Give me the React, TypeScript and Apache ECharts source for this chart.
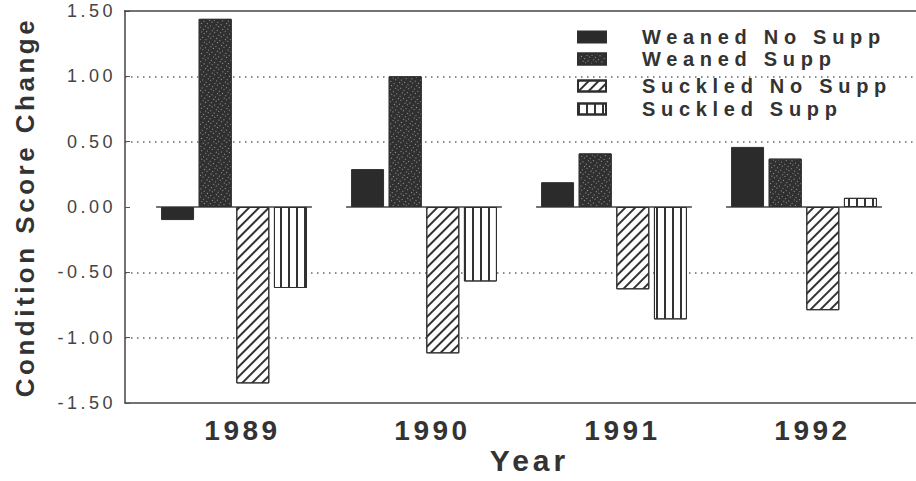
import React, { useEffect, useRef } from "react";
import * as echarts from "echarts";

const years = ["1989", "1990", "1991", "1992"];
const seriesNames = ["Weaned No Supp", "Weaned Supp", "Suckled No Supp", "Suckled Supp"];
const weanedNoSupp = [-0.1, 0.29, 0.19, 0.46];
const weanedSupp = [1.44, 1.0, 0.41, 0.37];
const suckledNoSupp = [-1.35, -1.12, -0.63, -0.79];
const suckledSupp = [-0.62, -0.57, -0.86, 0.07];
const yMin = -1.5;
const yMax = 1.5;
const yInterval = 0.5;

const FONT = "'Liberation Sans', Arial, Helvetica, sans-serif";
const INK = "#2e2e2e";

export default function App() {
  const ref = useRef<HTMLDivElement>(null);

  useEffect(() => {
    document.body.style.margin = "0";
    const chart = echarts.init(ref.current!, null, { renderer: "svg" });
    const border = { borderColor: INK, borderWidth: 1 };
    // one split line per tick from min to max; the one at 0 and the frame edges are hidden
    const splitColors: string[] = [];
    for (let v = yMin; v <= yMax + 1e-9; v += yInterval) {
      splitColors.push(
        Math.abs(v) < 1e-9 || Math.abs(v - yMin) < 1e-9 || Math.abs(v - yMax) < 1e-9 ? "rgba(0,0,0,0)" : "#666"
      );
    }
    const option: any = {
      animation: false,
      backgroundColor: "#ffffff",
      grid: [
        { left: 125, width: 805, top: 11, bottom: 78, outerBoundsMode: "none", containLabel: false },
        { left: 139, right: 17, top: 11, bottom: 78, outerBoundsMode: "none", containLabel: false },
      ],
      graphic: [
        {
          type: "line",
          z: 10,
          shape: { x1: 124, y1: 11, x2: 916, y2: 11 },
          style: { stroke: "#444", lineWidth: 1.5 },
          silent: true,
        },
      ],
      legend: [
        {
          data: [seriesNames[0], seriesNames[1]],
          orient: "vertical",
          left: 577,
          top: 27,
          padding: 0,
          itemGap: 2,
          itemWidth: 28,
          itemHeight: 11,
          icon: "rect",
          selectedMode: false,
          textStyle: { fontFamily: FONT, fontSize: 20, fontWeight: "bold", color: "#333", padding: [0, 0, 0, 31] },
        },
        {
          data: [seriesNames[2], seriesNames[3]],
          orient: "vertical",
          left: 577,
          top: 76,
          padding: 0,
          itemGap: 3,
          itemWidth: 28,
          itemHeight: 11,
          icon: "rect",
          selectedMode: false,
          textStyle: { fontFamily: FONT, fontSize: 20, fontWeight: "bold", color: "#333", padding: [0, 0, 0, 31] },
        },
      ],
      xAxis: [
        {
          type: "category",
          gridIndex: 0,
          data: years,
          axisLine: { show: true, onZero: false, lineStyle: { color: "#444", width: 1.5 } },
          axisTick: { show: false },
          axisLabel: { show: false },
          splitLine: { show: false },
          name: "Year",
          nameLocation: "middle",
          nameGap: 42,
          nameTextStyle: { fontFamily: FONT, fontSize: 30, fontWeight: "bold", color: "#333", padding: [0, 0, 0, 4] },
        },
        {
          type: "category",
          gridIndex: 1,
          data: years,
          axisLine: { show: false, onZero: false },
          axisTick: { show: false },
          axisLabel: {
            fontFamily: FONT,
            fontSize: 28,
            fontWeight: "bold",
            color: "#333",
            margin: 13,
            padding: [0, 0, 0, 17],
          },
        },
      ],
      yAxis: [
        {
          type: "value",
          gridIndex: 0,
          min: yMin,
          max: yMax,
          interval: yInterval,
          axisLine: { show: true, lineStyle: { color: "#444", width: 1.5 } },
          axisTick: { show: true, inside: true, length: 5, lineStyle: { color: "#555" } },
          axisLabel: {
            fontFamily: FONT,
            fontSize: 18,
            color: "#444",
            margin: 9,
            formatter: (v: number) => v.toFixed(2),
          },
          splitLine: {
            show: true,
            lineStyle: { color: splitColors, width: 1.5, type: [1.5, 4.5] },
          },
          name: "Condition Score Change",
          nameLocation: "middle",
          nameGap: 87,
          nameTextStyle: { fontFamily: FONT, fontSize: 26, fontWeight: "bold", color: "#333" },
        },
        {
          type: "value",
          gridIndex: 1,
          min: yMin,
          max: yMax,
          interval: yInterval,
          show: false,
        },
      ],
      series: [
        {
          type: "custom",
          xAxisIndex: 1,
          yAxisIndex: 1,
          silent: true,
          z: 1,
          data: years.map((_, i) => [i, 0]),
          renderItem: (params: any, api: any) => {
            const p = api.coord([api.value(0), 0]);
            const w = api.size([1, 0])[0];
            const half = w * 0.41;
            return {
              type: "line",
              shape: { x1: p[0] - half, y1: p[1], x2: p[0] + half, y2: p[1] },
              style: { stroke: "#444", lineWidth: 1.5 },
            };
          },
        },
        {
          name: seriesNames[0],
          type: "bar",
          xAxisIndex: 1,
          yAxisIndex: 1,
          data: weanedNoSupp,
          barWidth: 33,
          barGap: "14%",
          z: 3,
          itemStyle: { color: "#2b2b2b", ...border },
        },
        {
          name: seriesNames[1],
          type: "bar",
          xAxisIndex: 1,
          yAxisIndex: 1,
          data: weanedSupp,
          barWidth: 33,
          barGap: "14%",
          z: 3,
          itemStyle: {
            color: "#303030",
            ...border,
            decal: {
              symbol: "rect",
              symbolSize: 1,
              color: "rgba(185,185,185,0.8)",
              backgroundColor: "#2c2c2c",
              dashArrayX: [[1, 3], [1, 2, 1, 4]],
              dashArrayY: [1, 2, 1, 3],
              rotation: 0.6,
            },
          },
        },
        {
          name: seriesNames[2],
          type: "bar",
          xAxisIndex: 1,
          yAxisIndex: 1,
          data: suckledNoSupp,
          barWidth: 33,
          barGap: "14%",
          z: 3,
          itemStyle: {
            color: "#ffffff",
            ...border,
            decal: {
              symbol: "rect",
              symbolSize: 1,
              color: "#333",
              backgroundColor: "#ffffff",
              dashArrayX: [1, 0],
              dashArrayY: [1.3, 4.5],
              rotation: -Math.PI / 4,
            },
          },
        },
        {
          name: seriesNames[3],
          type: "bar",
          xAxisIndex: 1,
          yAxisIndex: 1,
          data: suckledSupp,
          barWidth: 33,
          barGap: "14%",
          z: 3,
          itemStyle: {
            color: "#ffffff",
            ...border,
            decal: {
              symbol: "rect",
              symbolSize: 1,
              color: "#333",
              backgroundColor: "#ffffff",
              dashArrayX: [1.3, 5.5],
              dashArrayY: [1, 0],
            },
          },
        },
      ],
    };
    chart.setOption(option);
    return () => chart.dispose();
  }, []);

  return (
    <div>
      <style>{`
        #chart text[style*="20px"] { letter-spacing: 5.7px; }
        #chart text[style*="18px"] { letter-spacing: 3.5px; }
        #chart text[style*="28px"] { letter-spacing: 3.5px; }
        #chart text[style*="30px"] { letter-spacing: 4px; }
        #chart text[style*="26px"] { letter-spacing: 3.5px; }
      `}</style>
      <div style={{ position: "fixed", left: 0, top: 0, width: 916, height: 481, overflow: "hidden" }}>
        <div
          id="chart"
          ref={ref}
          style={{ position: "absolute", left: 0, top: 0, width: 916, height: 481 }}
        />
      </div>
    </div>
  );
}
